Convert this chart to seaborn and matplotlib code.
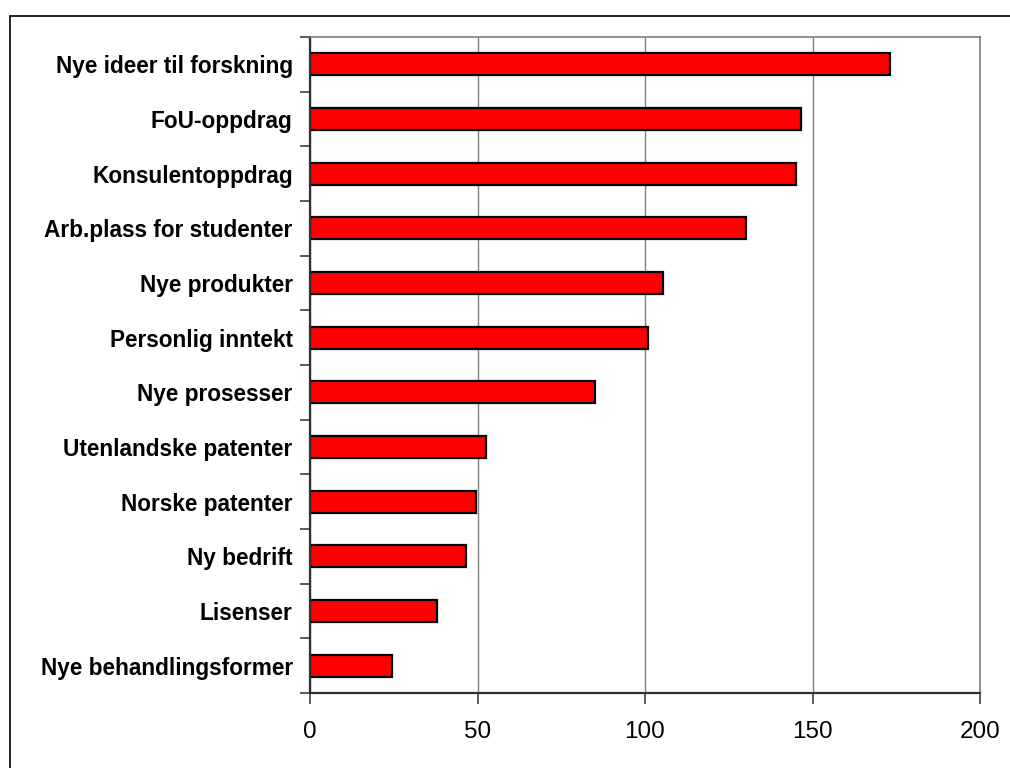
import numpy as np
import pandas as pd
import matplotlib
matplotlib.use("Agg")
import matplotlib.pyplot as plt
import seaborn as sns
from matplotlib.lines import Line2D

categories = [
    "Nye ideer til forskning",
    "FoU-oppdrag",
    "Konsulentoppdrag",
    "Arb.plass for studenter",
    "Nye produkter",
    "Personlig inntekt",
    "Nye prosesser",
    "Utenlandske patenter",
    "Norske patenter",
    "Ny bedrift",
    "Lisenser",
    "Nye behandlingsformer",
]
values = [173, 146.5, 145, 130, 105.5, 101, 85, 52.5, 49.5, 46.5, 38, 24.5]
x_ticks = [0, 50, 100, 150, 200]

sns.set_style("white")
plt.rcParams['font.family'] = ['Liberation Sans', 'DejaVu Sans']
plt.rcParams['text.color'] = 'black'
plt.rcParams['xtick.color'] = 'black'
plt.rcParams['ytick.color'] = 'black'

fig = plt.figure(figsize=(10.1, 7.68), dpi=100)
ax = fig.add_axes([310/1010, 1-693/768, 670/1010, (693-37)/768])

df = pd.DataFrame({"cat": categories, "val": values})
sns.barplot(data=df, x="val", y="cat", orient="h", color="#FF0000",
            edgecolor="black", linewidth=1.6, width=0.4, saturation=1, ax=ax)

ax.set_xlim(0, 200)
ax.set_ylim(len(categories) - 0.5, -0.5)
ax.set_xticks(x_ticks)
ax.set_xticklabels([str(t) for t in x_ticks], fontsize=17.5, color="black")
ax.set_xlabel("")
ax.set_ylabel("")
ax.tick_params(axis="x", length=8, width=1.2, color="#404040", labelcolor="black", pad=12, direction="out", bottom=True)
ax.tick_params(axis="y", which="major", length=0, pad=12.5, labelsize=16.3, labelcolor="black")
for lab in ax.get_yticklabels():
    lab.set_fontweight("bold")
ax.set_yticks(np.arange(-0.5, len(categories), 1), minor=True)
ax.tick_params(axis="y", which="minor", length=7, width=1.2, color="#404040", left=True, direction="out")

ax.set_axisbelow(True)
ax.grid(axis="x", color="#808080", linewidth=1)
ax.grid(axis="y", visible=False)
for s in ["top", "right"]:
    ax.spines[s].set_visible(True)
    ax.spines[s].set_color("#808080")
    ax.spines[s].set_linewidth(1.2)
for s in ["left", "bottom"]:
    ax.spines[s].set_visible(True)
    ax.spines[s].set_color("#303030")
    ax.spines[s].set_linewidth(1.6)

# outer chart frame (left and top edges visible)
fig.add_artist(Line2D([10/1010, 10/1010], [0, 1-16/768], transform=fig.transFigure, color="black", linewidth=1.2))
fig.add_artist(Line2D([10/1010, 1], [1-16/768, 1-16/768], transform=fig.transFigure, color="black", linewidth=1.2))

fig.savefig("out.png", dpi=100)
